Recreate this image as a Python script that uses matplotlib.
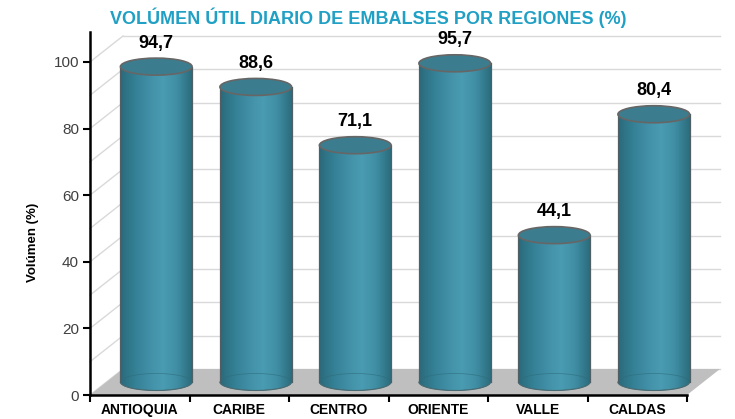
import numpy as np
import matplotlib
matplotlib.use('Agg')
import matplotlib.pyplot as plt
from matplotlib import font_manager
from matplotlib.patches import Ellipse, Rectangle, Arc, Polygon
from matplotlib.colors import LinearSegmentedColormap

# datos
regiones = ['ANTIOQUIA', 'CARIBE', 'CENTRO', 'ORIENTE', 'VALLE', 'CALDAS']
volumen = [94.7, 88.6, 71.1, 95.7, 44.1, 80.4]
titulo = 'VOLÚMEN ÚTIL DIARIO DE EMBALSES POR REGIONES (%)'
eje_y = 'Volúmen (%)'

nombres = {f.name for f in font_manager.fontManager.ttflist}
narrow = 'Liberation Sans Narrow' if 'Liberation Sans Narrow' in nombres else 'Liberation Sans'
plt.rcParams['font.family'] = [narrow, 'DejaVu Sans']

fig = plt.figure(figsize=(7.35, 4.19), dpi=100)
ax = fig.add_axes([90/735, 24/419, 597/735, 363/419])

# profundidad del efecto 3D (en unidades de datos)
px_x = 597/6
px_y = 3.33
ddx = 33/px_x
ddy = 26/px_y
gris_grid = '#D9D9D9'

# paredes y piso
for v in range(0, 101, 10):
    ax.plot([-0.5, -0.5+ddx], [v, v+ddy], color=gris_grid, lw=1, zorder=1, clip_on=False)
    ax.plot([-0.5+ddx, 5.5+ddx], [v+ddy, v+ddy], color=gris_grid, lw=1, zorder=1, clip_on=False)
piso = Polygon([(-0.5, 0), (5.5, 0), (5.5+ddx, ddy), (-0.5+ddx, ddy)],
               closed=True, facecolor='#BFBFBF', edgecolor='none', zorder=2, clip_on=False)
ax.add_patch(piso)

cmap = LinearSegmentedColormap.from_list('cil', ['#2A6A7B', '#347F94', '#418FA6', '#4A9CB2', '#3F8DA3', '#2B6C7D'])
grad = np.linspace(0, 1, 256).reshape(1, -1)

w = 0.72
eh = 17/px_y
for i, v in enumerate(volumen):
    xc = i + ddx/2
    base = ddy/2
    top = v + ddy/2
    ext = [xc-w/2, xc+w/2, base-eh/2, top]
    rect = Rectangle((xc-w/2, base), w, v, transform=ax.transData)
    ell_b = Ellipse((xc, base), w, eh, transform=ax.transData)
    for clip in (rect, ell_b):
        im = ax.imshow(grad, extent=ext, aspect='auto', cmap=cmap, zorder=3, interpolation='bilinear')
        im.set_clip_box(fig.bbox)
        im.set_clip_path(clip)
    ax.add_patch(Ellipse((xc, base), w, eh, fill=False, edgecolor='#2E6B7A', lw=0.6, alpha=0.6, zorder=4, clip_on=False))
    ax.add_patch(Arc((xc, base), w, eh, theta1=180, theta2=360, edgecolor='#4A6A72', lw=0.8, zorder=4, clip_on=False))
    ax.plot([xc-w/2, xc-w/2], [base, top], color='#4F5F63', lw=0.9, zorder=4, clip_on=False)
    ax.plot([xc+w/2, xc+w/2], [base, top], color='#4F5F63', lw=0.9, zorder=4, clip_on=False)
    ax.add_patch(Ellipse((xc, top), w, eh, facecolor='#3B7D8E', edgecolor='#666666', lw=1.2, zorder=5, clip_on=False))
    ax.annotate(f'{v:.1f}'.replace('.', ','), xy=(xc, top), xytext=(0, 17),
                textcoords='offset points', ha='center', va='center',
                fontsize=13, fontweight='bold', color='black', zorder=6)

ax.set_xlim(-0.5, 5.5)
ax.set_ylim(0, 109)
ax.set_yticks(range(0, 101, 20))
ax.set_xticks(np.arange(-0.5, 6, 1))
ax.set_xticklabels([])
ax.set_xticks(range(len(regiones)), minor=True)
ax.set_xticklabels(regiones, minor=True, fontsize=10, fontweight='bold')
ax.tick_params(axis='x', which='minor', length=0, pad=6)
ax.tick_params(axis='x', which='major', length=5, width=1.5, color='black')
ax.tick_params(axis='y', length=5, width=1.5, labelsize=11, labelcolor='#404040', pad=3)
for s in ['top', 'right']:
    ax.spines[s].set_visible(False)
for s in ['left', 'bottom']:
    ax.spines[s].set_linewidth(1.8)
    ax.spines[s].set_zorder(7)
ax.patch.set_alpha(0)

fig.text(368/735, 1-18/419, titulo, ha='center', va='center', fontsize=13,
         fontweight='bold', color='#20A0C4')
fig.text(33/735, 1-242/419, eje_y, rotation=90, ha='center', va='center',
         fontsize=9.5, fontweight='bold')

plt.savefig('out.png', dpi=100)
